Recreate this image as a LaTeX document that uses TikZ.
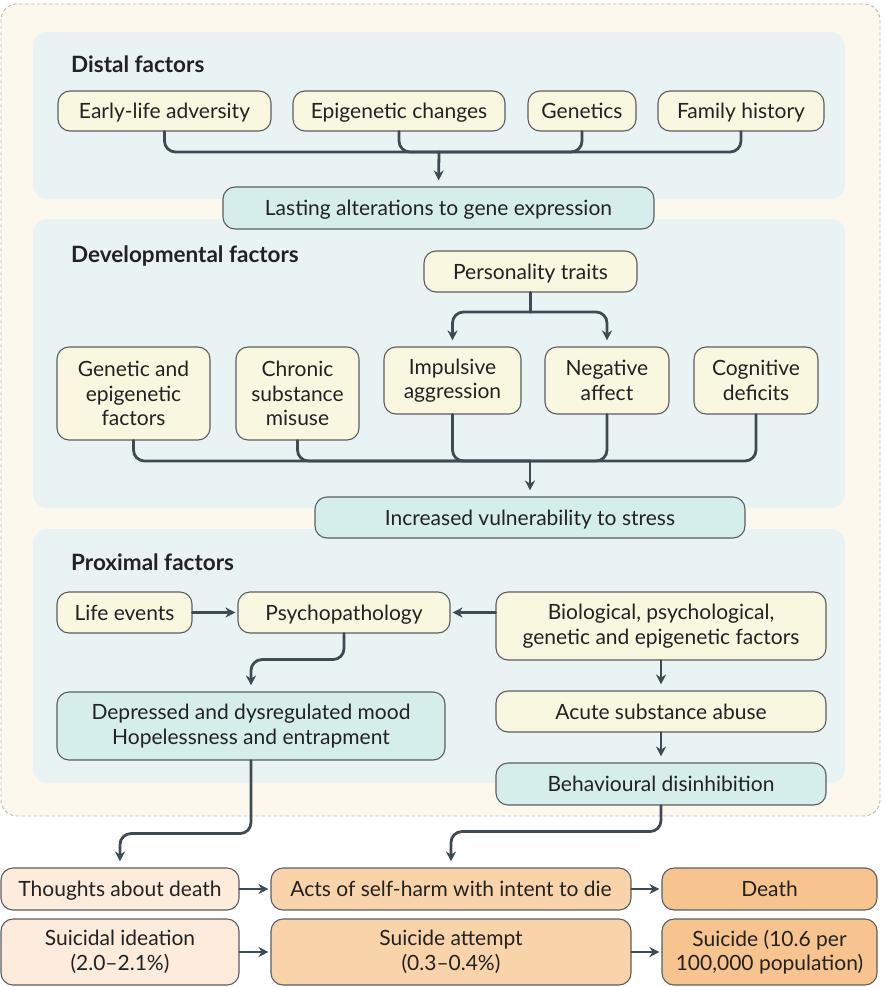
\documentclass[tikz,border=0pt]{standalone}
\usepackage{fontspec}
\setmainfont{Lato}
\usetikzlibrary{arrows.meta}
\definecolor{cream}{HTML}{FCF8ED}
\definecolor{panel}{HTML}{EAF3F4}
\definecolor{boxyel}{HTML}{F9F7E0}
\definecolor{boxteal}{HTML}{D6EEEB}
\definecolor{peachA}{HTML}{FDEBDC}
\definecolor{peachB}{HTML}{F9D3AA}
\definecolor{peachC}{HTML}{F7C38F}
\definecolor{linec}{HTML}{3F4B52}
\definecolor{edge}{HTML}{5A5E60}
\definecolor{ink}{HTML}{222222}
\begin{document}
\begin{tikzpicture}[x=1pt,y=-1pt,line cap=round,line join=round,
  font=\fontsize{21}{24.5}\selectfont,
  wh/.style 2 args={minimum width=#1pt,minimum height=#2pt},
  box/.style={draw=edge,line width=1.1pt,rounded corners=12pt,align=center,inner sep=0pt,text=ink},
  one/.style={text height=15pt,text depth=0pt},
  ybox/.style={box,fill=boxyel},
  tbox/.style={box,fill=boxteal},
  pbox/.style={box,fill=peachA},
  qbox/.style={box,fill=peachB},
  obox/.style={box,fill=peachC},
  conn/.style={draw=linec,line width=2.8pt,rounded corners=11pt},
  arr/.style={conn,-{Stealth[length=10pt,width=10pt]},shorten >=6pt},
  harr/.style={conn,-{Stealth[length=10pt,width=10pt]},shorten >=2pt},
  title/.style={anchor=west,inner sep=0pt,font=\fontsize{22.5}{26}\selectfont\bfseries,text=ink}]
  \useasboundingbox (0,0) rectangle (884,987);
  \fill[cream,rounded corners=16pt] (1,4) rectangle (880,816);
  \draw[gray!55,dashed,line width=0.9pt,rounded corners=16pt] (1,4) rectangle (880,816);
  \foreach \ya/\yb in {32/199,219/508,529/783}
    \fill[panel,rounded corners=14pt] (33,\ya) rectangle (845,\yb);
  \node[title] (tdist) at (71,64) {Distal factors};
  \node[title] (tdev) at (71,256) {Developmental factors};
  \node[title] (tprox) at (71,562) {Proximal factors};
  \node[ybox,one,wh={213}{40}] (early) at (164.5,111) {Early-life adversity};
  \node[ybox,one,wh={212}{40}] (epi) at (399,111) {Epigenetic changes};
  \node[ybox,one,wh={108}{40}] (gen) at (582,111) {Genetics};
  \node[ybox,one,wh={166}{40}] (fam) at (741,111) {Family history};
  \node[tbox,one,wh={431}{42}] (lasting) at (438.5,208) {Lasting alterations to gene expression};
  \coordinate (dbus) at (439,152);
  \draw[conn] (early.south) |- (dbus) -| (fam.south);
  \draw[conn] (epi.south) |- (dbus);
  \draw[conn] (gen.south) |- (dbus);
  \draw[arr] (dbus) -- (lasting.north);
  \node[ybox,one,wh={213}{41}] (pers) at (530.5,271.5) {Personality traits};
  \node[ybox,wh={153}{93}] (genepi) at (133.5,393.5) {Genetic and\\epigenetic\\factors};
  \node[ybox,wh={123}{93}] (chronic) at (297.5,393.5) {Chronic\\substance\\misuse};
  \node[ybox,wh={137}{67}] (impuls) at (452.5,380.5) {Impulsive\\aggression};
  \node[ybox,wh={124}{67}] (neg) at (607,380.5) {Negative\\affect};
  \node[ybox,wh={124}{67}] (cog) at (756,380.5) {Cognitive\\deficits};
  \node[tbox,one,wh={430}{41}] (incr) at (530,517.5) {Increased vulnerability to stress};
  \coordinate (pbus) at (530.5,312);
  \draw[conn] (pers.south) -- (pbus);
  \draw[arr] (pbus) -| (impuls.north);
  \draw[arr] (pbus) -| (neg.north);
  \coordinate (vbus) at (530,461);
  \draw[conn] (genepi.south) |- (vbus) -| (cog.south);
  \draw[conn] (chronic.south) |- (vbus);
  \draw[conn] (impuls.south) |- (vbus);
  \draw[conn] (neg.south) |- (vbus);
  \draw[arr] (vbus) -- (incr.north);
  \node[ybox,one,wh={135}{41}] (life) at (124.5,612.5) {Life events};
  \node[ybox,one,wh={212}{41}] (psycho) at (344,612.5) {Psychopathology};
  \node[ybox,wh={330}{68}] (bio) at (661,626) {Biological, psychological,\\genetic and epigenetic factors};
  \node[tbox,wh={388}{68}] (depr) at (251,726) {Depressed and dysregulated mood\\Hopelessness and entrapment};
  \node[ybox,one,wh={330}{41}] (acute) at (661,711.5) {Acute substance abuse};
  \node[tbox,one,wh={330}{42}] (behav) at (661,784) {Behavioural disinhibition};
  \draw[harr] (life) -- (psycho);
  \draw[harr] (bio.west |- psycho.east) -- (psycho.east);
  \draw[arr] (psycho.south) -- ++(0,26) -| (depr.north);
  \draw[arr] (bio.south) -- (acute.north);
  \draw[arr] (acute.south) -- (behav.north);
  \node[pbox,one,wh={238}{42}] (thoughts) at (120,889) {Thoughts about death};
  \node[qbox,one,wh={360}{42}] (acts) at (451,889) {Acts of self-harm with intent to die};
  \node[obox,one,wh={215}{42}] (death) at (769.5,889) {Death};
  \node[pbox,wh={238}{66}] (ideation) at (120,952) {Suicidal ideation\\(2.0--2.1\%)};
  \node[qbox,wh={360}{66}] (attempt) at (451,952) {Suicide attempt\\(0.3--0.4\%)};
  \node[obox,wh={215}{66}] (suicide) at (769.5,952) {Suicide (10.6 per\\100,000 population)};
  \draw[arr] (depr.south) -- ++(0,73) -| (thoughts.north);
  \draw[arr] (behav.south) -- ++(0,26) -| (acts.north);
  \draw[harr] (thoughts) -- (acts);
  \draw[harr] (acts) -- (death);
  \draw[harr] (ideation) -- (attempt);
  \draw[harr] (attempt) -- (suicide);
\end{tikzpicture}
\end{document}
